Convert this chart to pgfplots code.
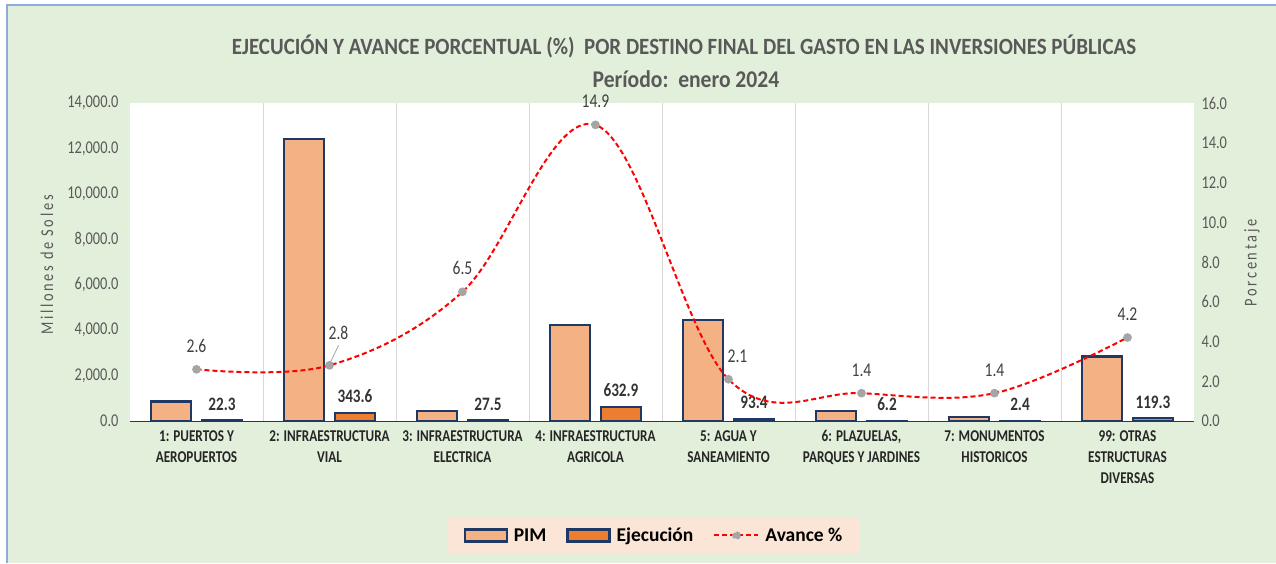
\documentclass[border=0pt]{standalone}
\usepackage{fontspec}
\setmainfont{Carlito}[FakeStretch=0.8]
\newfontfamily\titlefont{Carlito}[FakeStretch=0.9]
\newfontfamily\legfont{Carlito}
\usepackage{pgfplots}
\pgfplotsset{compat=1.18}
\usepackage{pgfplotstable}
\definecolor{bg}{HTML}{E2EFDA}
\definecolor{frame}{HTML}{8FAADC}
\definecolor{pim}{HTML}{F4B183}
\definecolor{eje}{HTML}{ED7D31}
\definecolor{navy}{HTML}{1F3864}
\definecolor{tgray}{HTML}{595959}
\definecolor{ttl}{HTML}{595959}
\definecolor{lgray}{HTML}{404040}
\definecolor{mk}{HTML}{A5A5A5}
\definecolor{legbg}{HTML}{FBE5D6}
\definecolor{gridc}{HTML}{D9D9D9}
\pgfplotstableread{
x pim eje
0 858 22.3
1 12420 343.6
2 423 27.5
3 4230 632.9
4 4450 93.4
5 440 6.2
6 171 2.4
7 2840 119.3
}\bardata
\pgfplotstableread{
x y dx dy
0 2.6 0 0
1 2.8 9 9
2 6.5 0 0
3 14.9 0 0
4 2.1 9 0
5 1.4 0 0
6 1.4 0 0
7 4.2 0 0
}\linedata
\begin{document}
\begin{tikzpicture}
\useasboundingbox (0,0) rectangle (1276pt,563pt);
\fill[white] (0,0) rectangle (1276pt,563pt);
\fill[bg] (7pt,0) rectangle (1276pt,558pt);
\draw[frame, line width=1.2pt] (7pt,0) -- (7pt,558pt) -- (1276pt,558pt);
\node[font=\titlefont\fontsize{23.3}{26}\selectfont\bfseries, text=ttl, anchor=base] at (684pt,508pt) {EJECUCIÓN Y AVANCE PORCENTUAL (\%)~~POR DESTINO FINAL DEL GASTO EN LAS INVERSIONES PÚBLICAS};
\node[font=\titlefont\fontsize{24}{26}\selectfont\bfseries, text=ttl, anchor=base] at (686pt,475pt) {Período:~~enero 2024};
\node[rotate=90, font=\fontsize{18}{20}\selectfont\addfontfeature{LetterSpace=15}, text=tgray] at (47pt,298pt) {Millones de Soles};
\node[rotate=90, font=\fontsize{18}{20}\selectfont\addfontfeature{LetterSpace=15}, text=tgray] at (1252pt,300pt) {Porcentaje};
\begin{axis}[
  at={(130pt,142pt)}, anchor=south west,
  scale only axis, width=1064pt, height=318pt,
  xmin=-0.5, xmax=7.5, ymin=0, ymax=14000,
  axis background/.style={fill=white},
  axis x line*=bottom, axis y line*=left,
  x axis line style={draw=navy, line width=0.8pt, -},
  y axis line style={draw=none},
  major tick length=0pt, minor tick length=0pt,
  xtick={0,...,7},
  xticklabels={{1: PUERTOS Y\\AEROPUERTOS},{2: INFRAESTRUCTURA\\VIAL},{3: INFRAESTRUCTURA\\ELECTRICA},{4: INFRAESTRUCTURA\\AGRICOLA},{5: AGUA Y\\SANEAMIENTO},{6: PLAZUELAS,\\PARQUES Y JARDINES},{7: MONUMENTOS\\HISTORICOS},{99: OTRAS\\ESTRUCTURAS\\DIVERSAS}},
  xticklabel style={align=center, font=\fontsize{16.5}{21}\selectfont\bfseries, text=black!85, anchor=north, yshift=-6pt},
  minor xtick={0.5,1.5,...,6.5}, xminorgrids,
  minor grid style={draw=gridc, line width=0.8pt},
  ytick={0,2000,...,14000},
  yticklabel style={font=\fontsize{18}{20}\selectfont, text=tgray, xshift=-8pt},
  /pgf/number format/assume math mode=true,
  y tick label style={/pgf/number format/.cd, fixed, fixed zerofill, precision=1, 1000 sep={,}},
  scaled y ticks=false,
  clip=false,
]
\addplot[ybar, bar width=0.3008, bar shift=-0.1917, fill=pim, draw=navy, line width=2.2pt] table[x=x,y=pim]{\bardata};
\addplot[ybar, bar width=0.3008, bar shift=0.1917, fill=eje, draw=navy, line width=2.2pt,
  nodes near coords, point meta=explicit, 
  nodes near coords style={font=\fontsize{19}{20}\selectfont\bfseries, text=black!80, anchor=south, inner sep=0pt, yshift=9pt, xshift=25.5pt, /pgf/number format/.cd, fixed, fixed zerofill, precision=1, assume math mode=true}
  ] table[x=x,y=eje,meta=eje]{\bardata};
\end{axis}
\begin{axis}[
  at={(130pt,142pt)}, anchor=south west,
  scale only axis, width=1064pt, height=318pt,
  xmin=-0.5, xmax=7.5, ymin=0, ymax=16,
  axis x line=none, axis y line*=right,
  y axis line style={draw=none},
  major tick length=0pt,
  ytick={0,2,...,16},
  yticklabel style={font=\fontsize{18}{20}\selectfont, text=tgray, xshift=4pt},
  /pgf/number format/assume math mode=true,
  y tick label style={/pgf/number format/.cd, fixed, fixed zerofill, precision=1},
  clip=false,
  legend style={at={(0.4925,-0.36)}, anchor=center, draw=none, fill=legbg,
    font=\legfont\fontsize{19.5}{23}\selectfont\bfseries, legend columns=3,
    inner xsep=16pt, inner ysep=8pt,
    /tikz/every odd column/.append style={column sep=4pt},
    /tikz/every even column/.append style={column sep=18pt},
    legend cell align=left},
]
\addlegendimage{legend image code/.code={\draw[fill=pim,draw=navy,line width=2.2pt] (0pt,-6pt) rectangle (42pt,6pt);}}
\addlegendentry{PIM}
\addlegendimage{legend image code/.code={\draw[fill=eje,draw=navy,line width=2.2pt] (0pt,-6pt) rectangle (42pt,6pt);}}
\addlegendentry{Ejecución}
\draw[mk, line width=0.8pt] (axis cs:1,2.8) ++(0pt,1pt) -- ++(9pt,19pt);
\addplot[red, dash pattern=on 5pt off 3pt, line width=2pt, smooth, tension=0.6,
  mark=*, mark size=3.3pt, mark options={solid, fill=mk, draw=mk},
  visualization depends on={\thisrow{dx} \as \dx},
  visualization depends on={\thisrow{dy} \as \dy},
  nodes near coords, point meta=explicit,
  nodes near coords style={font=\fontsize{19.5}{20}\selectfont, text=lgray, anchor=south, inner sep=0pt, xshift=\dx pt, yshift={\dy pt+16pt}, /pgf/number format/.cd, fixed, fixed zerofill, precision=1, assume math mode=true},
  legend image code/.code={\draw[red,dash pattern=on 5pt off 3pt,line width=2pt] (0pt,0pt) -- (44pt,0pt); \fill[mk] (22pt,0pt) circle (3.3pt);}
  ] table[x=x,y=y,meta=y]{\linedata};
\addlegendentry{Avance \%}
\end{axis}
\end{tikzpicture}
\end{document}
